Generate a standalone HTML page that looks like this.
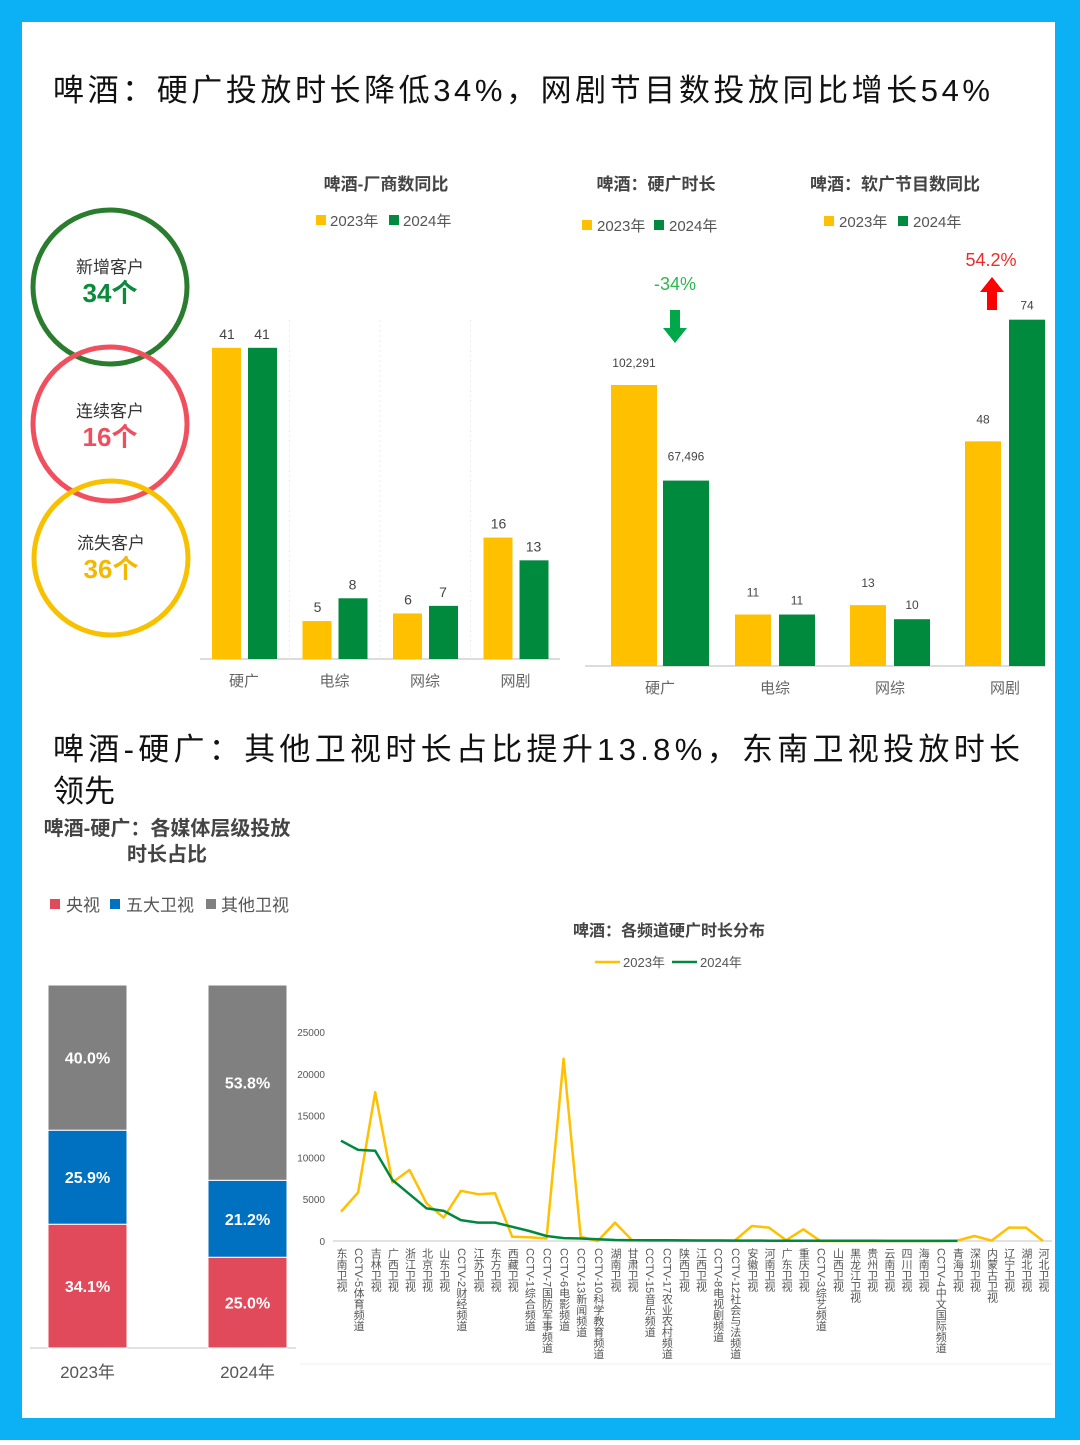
<!DOCTYPE html>
<html><head><meta charset="utf-8"><style>
body{margin:0;width:1080px;height:1440px;overflow:hidden;}
svg text{font-family:"Liberation Sans","Noto Sans CJK SC",sans-serif;}
</style></head><body>
<svg id="s" width="1080" height="1440" xmlns="http://www.w3.org/2000/svg">
<rect x="0" y="0" width="1080" height="1440" fill="#0bb0f5"/>
<rect x="22" y="22" width="1033" height="1396" fill="#ffffff"/>
<text x="53" y="101" font-size="31" fill="#111" textLength="937" lengthAdjust="spacing">啤酒：硬广投放时长降低34%，网剧节目数投放同比增长54%</text>
<text x="53" y="760" font-size="31" fill="#111" textLength="967" lengthAdjust="spacing">啤酒-硬广：其他卫视时长占比提升13.8%，东南卫视投放时长</text>
<text x="53" y="802" font-size="31" fill="#111">领先</text>

<g>
<circle cx="110" cy="287" r="77" fill="none" stroke="#2a7d2e" stroke-width="5"/>
<circle cx="110" cy="424" r="77" fill="none" stroke="#f0505e" stroke-width="5"/>
<circle cx="111" cy="558" r="77" fill="none" stroke="#f8c100" stroke-width="5"/>
<text x="110" y="273" font-size="17" text-anchor="middle" fill="#333">新增客户</text>
<text x="110" y="302" font-size="26" font-weight="bold" text-anchor="middle" fill="#0a8a3a">34个</text>
<text x="110" y="417" font-size="17" text-anchor="middle" fill="#333">连续客户</text>
<text x="110" y="446" font-size="26" font-weight="bold" text-anchor="middle" fill="#ef4f5c">16个</text>
<text x="111" y="549" font-size="17" text-anchor="middle" fill="#333">流失客户</text>
<text x="111" y="578" font-size="26" font-weight="bold" text-anchor="middle" fill="#f5b800">36个</text>
</g>

<g id="c1">
<text x="386" y="190" font-size="17" font-weight="bold" text-anchor="middle" fill="#444">啤酒-厂商数同比</text>
<rect x="316" y="215" width="10" height="10" fill="#ffc000"/>
<text x="330" y="226" font-size="15" fill="#555">2023年</text>
<rect x="389" y="215" width="10" height="10" fill="#008a3e"/>
<text x="403" y="226" font-size="15" fill="#555">2024年</text>
<line x1="200" y1="659" x2="560" y2="659" stroke="#d0d0d0" stroke-width="1.5"/>
</g>

<g id="c2">
<text x="656" y="190" font-size="17" font-weight="bold" text-anchor="middle" fill="#444">啤酒：硬广时长</text>
<rect x="582" y="220" width="10" height="10" fill="#ffc000"/>
<text x="597" y="231" font-size="15" fill="#555">2023年</text>
<rect x="654" y="220" width="10" height="10" fill="#008a3e"/>
<text x="669" y="231" font-size="15" fill="#555">2024年</text>
<text x="895" y="190" font-size="17" font-weight="bold" text-anchor="middle" fill="#444">啤酒：软广节目数同比</text>
<rect x="824" y="216" width="10" height="10" fill="#ffc000"/>
<text x="839" y="227" font-size="15" fill="#555">2023年</text>
<rect x="898" y="216" width="10" height="10" fill="#008a3e"/>
<text x="913" y="227" font-size="15" fill="#555">2024年</text>
<text x="675" y="290" font-size="18" text-anchor="middle" fill="#2db84d">-34%</text>
<path d="M670 310 h10 v18 h7 l-12 15 l-12 -15 h7 z" fill="#00a84a"/>
<text x="991" y="266" font-size="18" text-anchor="middle" fill="#f02a2a">54.2%</text>
<path d="M987 310 h10 v-18 h7 l-12 -15 l-12 15 h7 z" fill="#ff0000"/>
<line x1="585" y1="666" x2="1045" y2="666" stroke="#d0d0d0" stroke-width="1.5"/>
</g>

<g id="c3">
<text x="167" y="835" font-size="20" font-weight="bold" text-anchor="middle" fill="#444">啤酒-硬广：各媒体层级投放</text>
<text x="167" y="861" font-size="20" font-weight="bold" text-anchor="middle" fill="#444">时长占比</text>
<rect x="50" y="899" width="10" height="10" fill="#e04a5a"/>
<text x="66" y="911" font-size="17" fill="#555">央视</text>
<rect x="110" y="899" width="10" height="10" fill="#0070c0"/>
<text x="126" y="911" font-size="17" fill="#555">五大卫视</text>
<rect x="206" y="899" width="10" height="10" fill="#808080"/>
<text x="221" y="911" font-size="17" fill="#555">其他卫视</text>
<line x1="30" y1="1348" x2="296" y2="1348" stroke="#d8d8d8" stroke-width="1.5"/>
</g>

<g id="c4">
<text x="669" y="936" font-size="16" font-weight="bold" text-anchor="middle" fill="#444">啤酒：各频道硬广时长分布</text>
<line x1="595" y1="962" x2="620" y2="962" stroke="#ffc000" stroke-width="2.5"/>
<text x="623" y="967" font-size="13" fill="#555">2023年</text>
<line x1="672" y1="962" x2="697" y2="962" stroke="#00883f" stroke-width="2.5"/>
<text x="700" y="967" font-size="13" fill="#555">2024年</text>
<line x1="333" y1="1241" x2="1052" y2="1241" stroke="#d8d8d8" stroke-width="1.5"/>
</g>
</svg>
<script>
// ---- Chart 1: advertiser counts
var c1Categories = ['硬广','电综','网综','网剧'];
var c1Values2023 = [41,5,6,16];
var c1Values2024 = [41,8,7,13];
// ---- Chart 2: hard-ad duration & soft-ad program counts
var c2Categories = ['硬广','电综','网综','网剧'];
var c2Values2023 = [102291,11,13,48];
var c2Values2024 = [67496,11,10,74];
var c2Labels2023 = ['102,291','11','13','48'];
var c2Labels2024 = ['67,496','11','10','74'];
// ---- Chart 3: media share
var c3Categories = ['2023年','2024年'];
var c3Cctv = [34.1,25.0];
var c3Top5 = [25.9,21.2];
var c3Other = [40.0,53.8];
// ---- Chart 4: channel durations
var c4Channels = ['东南卫视','CCTV-5体育频道','吉林卫视','广西卫视','浙江卫视','北京卫视','山东卫视','CCTV-2财经频道','江苏卫视','东方卫视','西藏卫视','CCTV-1综合频道','CCTV-7国防军事频道','CCTV-6电影频道','CCTV-13新闻频道','CCTV-10科学教育频道','湖南卫视','甘肃卫视','CCTV-15音乐频道','CCTV-17农业农村频道','陕西卫视','江西卫视','CCTV-8电视剧频道','CCTV-12社会与法频道','安徽卫视','河南卫视','广东卫视','重庆卫视','CCTV-3综艺频道','山西卫视','黑龙江卫视','贵州卫视','云南卫视','四川卫视','海南卫视','CCTV-4中文国际频道','青海卫视','深圳卫视','内蒙古卫视','辽宁卫视','湖北卫视','河北卫视'];
var c4Values2023 = [3500,5800,17800,7000,8500,4500,2800,6000,5600,5700,500,450,300,21800,500,0,2200,100,50,50,50,50,50,50,1800,1600,100,1400,0,0,0,0,0,0,0,0,50,600,50,1600,1600,0];
var c4Values2024 = [12000,10900,10800,7300,5600,3900,3600,2500,2200,2200,1700,1200,600,350,300,200,120,100,90,80,70,60,60,50,50,40,40,30,30,20,20,20,10,10,10,10,10,null,null,null,null,null];
var c4Ticks = [0,5000,10000,15000,20000,25000];

var NS='http://www.w3.org/2000/svg';
function mk(parent,tag,attrs,txt){var e=document.createElementNS(NS,tag);for(var k in attrs)e.setAttribute(k,attrs[k]);if(txt!==undefined)e.textContent=txt;parent.appendChild(e);return e;}
var Y='#ffc000',G='#00883f';

// Chart 1
(function(){
  var g=document.getElementById('c1');
  var base=659, k=7.59;
  function y(v){return base-v*k;}
  function cx(i){return 244+i*90.5;}
  var bw=29;
  for(var i=0;i<c1Categories.length;i++){
    if(i>0){var sep=mk(g,'line',{x1:cx(i)-45,y1:320,x2:cx(i)-45,y2:base,stroke:'#eee','stroke-dasharray':'2,3'});
      
      }
    var a=mk(g,'rect',{x:cx(i)-32,y:y(c1Values2023[i]),width:bw,height:c1Values2023[i]*k,fill:Y});
    
    
    var b=mk(g,'rect',{x:cx(i)+4,y:y(c1Values2024[i]),width:bw,height:c1Values2024[i]*k,fill:'#008a3e'});
    
    
    var t=mk(g,'text',{x:cx(i)-17,y:y(c1Values2023[i])-9,'font-size':14,'text-anchor':'middle',fill:'#444'},c1Values2023[i]);
    
    
    var t2=mk(g,'text',{x:cx(i)+18,y:y(c1Values2024[i])-9,'font-size':14,'text-anchor':'middle',fill:'#444'},c1Values2024[i]);
    
    
    var c=mk(g,'text',{x:cx(i),y:686,'font-size':15,'text-anchor':'middle',fill:'#666'},c1Categories[i]);
    
    
  }
})();

// Chart 2
(function(){
  var g=document.getElementById('c2');
  var base=666;
  function yTime(v){return base-v*281/102291;}
  function yCount(v){return base-v*4.68;}
  function cx(i){return 660+i*115;}
  var bw=[46,36,36,36];
  for(var i=0;i<c2Categories.length;i++){
    var sc=i===0?yTime:yCount;
    var w=bw[i], gap=i===0?6:8;
    var a=mk(g,'rect',{x:cx(i)-gap/2-w,y:sc(c2Values2023[i]),width:w,height:base-sc(c2Values2023[i]),fill:Y});
    
    
    var b=mk(g,'rect',{x:cx(i)+gap/2,y:sc(c2Values2024[i]),width:w,height:base-sc(c2Values2024[i]),fill:'#008a3e'});
    
    
    var t=mk(g,'text',{x:cx(i)-gap/2-w/2,y:sc(c2Values2023[i])-18,'font-size':12,'text-anchor':'middle',fill:'#444'},c2Labels2023[i]);
    
    
    var t2=mk(g,'text',{x:cx(i)+gap/2+w/2,y:sc(c2Values2024[i])-(i===0?20:10),'font-size':12,'text-anchor':'middle',fill:'#444'},c2Labels2024[i]);
    
    
    var c=mk(g,'text',{x:cx(i),y:693,'font-size':15,'text-anchor':'middle',fill:'#666'},c2Categories[i]);
    
    
  }
})();

// Chart 3
(function(){
  var g=document.getElementById('c3');
  var base=1348,H=363;
  function h(p){return p/100*H;}
  var xs=[48,208], w=79;
  for(var i=0;i<c3Categories.length;i++){
    var segs=[[c3Cctv[i],'#e04a5a','cctv'],[c3Top5[i],'#0070c0','top5'],[c3Other[i],'#808080','other']];
    var y0=base;
    for(var j=0;j<segs.length;j++){
      var hh=h(segs[j][0]);
      var r=mk(g,'rect',{x:xs[i],y:y0-hh,width:w,height:hh,fill:segs[j][1],stroke:'#fff','stroke-width':1});
      
      
      var t=mk(g,'text',{x:xs[i]+w/2,y:y0-hh/2+6,'font-size':16,'font-weight':'bold','text-anchor':'middle',fill:'#fff'},segs[j][0].toFixed(1)+'%');
      
      
      y0-=hh;
    }
    var c=mk(g,'text',{x:xs[i]+w/2,y:1378,'font-size':17,'text-anchor':'middle',fill:'#555'},c3Categories[i]);
    
    
  }
})();

// Chart 4
(function(){
  var g=document.getElementById('c4');
  var base=1241;
  function x(i){return 341+i*(702/41);}
  function y(v){return base-v*209/25000;}
  for(var t=0;t<c4Ticks.length;t++){
    var tl=mk(g,'text',{x:325,y:y(c4Ticks[t])+4,'font-size':10,'text-anchor':'end',fill:'#555'},c4Ticks[t]);
    
    
  }
  function path(vals){var d='';var started=false;for(var i=0;i<vals.length;i++){if(vals[i]===null)continue;d+=(started?'L':'M')+x(i).toFixed(1)+' '+y(vals[i]).toFixed(1)+' ';started=true;}return d;}
  var p1=mk(g,'path',{d:path(c4Values2023),fill:'none',stroke:Y,'stroke-width':2.5,'stroke-linejoin':'round'});
  
  
  var p2=mk(g,'path',{d:path(c4Values2024),fill:'none',stroke:G,'stroke-width':2.5,'stroke-linejoin':'round'});
  
  
  for(var i=0;i<c4Channels.length;i++){
    var c=mk(g,'text',{x:x(i),y:1248,'font-size':11,fill:'#555',style:'writing-mode:vertical-rl;text-orientation:mixed'},c4Channels[i]);
    
    
  }
  var l=mk(g,'line',{x1:300,y1:1364,x2:1052,y2:1364,stroke:'#f0f0f0'});
  
  
})();
</script>
</body></html>
